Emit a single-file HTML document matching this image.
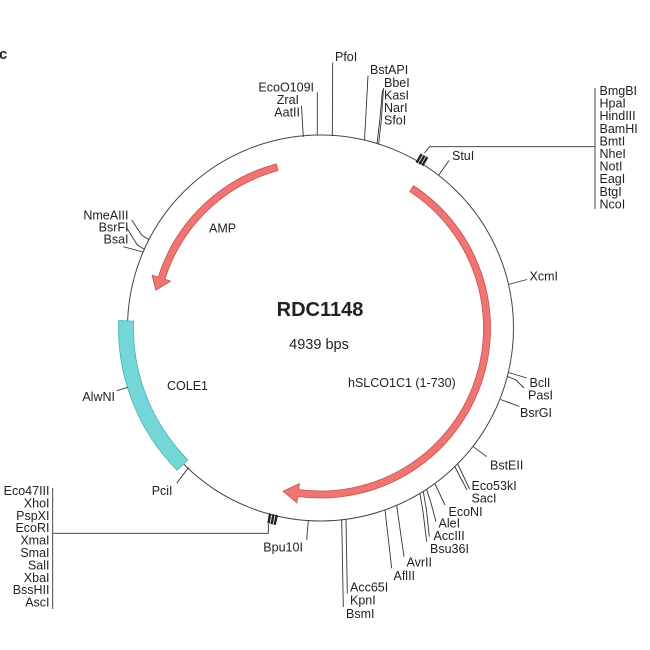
<!DOCTYPE html>
<html>
<head>
<meta charset="utf-8">
<style>
  html, body { margin:0; padding:0; background:#fff; }
  svg { display:block; }
  text { font-family: "Liberation Sans", Arial, sans-serif; font-size:12.5px; fill:#222; }
  .l { stroke:#333; stroke-width:0.9; fill:none; }
</style>
</head>
<body>
<svg width="650" height="650" viewBox="0 0 650 650" xmlns="http://www.w3.org/2000/svg">
  <rect width="650" height="650" fill="#fff"/>

  <!-- panel letter -->
  <text x="-1" y="59" style="font-weight:bold;font-size:15px">c</text>

  <!-- backbone circle -->
  <circle cx="320.5" cy="328" r="193" fill="none" stroke="#444" stroke-width="1"/>

  <!-- COLE1 band -->
  <path d="M118.64,320.60 A202,202 0 0 0 177.16,470.33 L187.80,459.76 A187,187 0 0 1 133.63,321.15 Z"
        fill="#74d6d6" stroke="#45b3b3" stroke-width="0.8"/>

  <!-- hSLCO1C1 arrow -->
  <path d="M413.59,185.74 A170,170 0 0 1 297.72,496.47 L296.85,502.91 L283.10,491.28 L299.46,483.59 L298.66,489.53 A163,163 0 0 0 409.76,191.60 Z"
        fill="#ef7572" stroke="#cf4f4c" stroke-width="0.8"/>

  <!-- AMP arrow -->
  <path d="M276.21,163.86 A170,170 0 0 0 158.29,277.17 L152.08,275.23 L155.76,290.26 L170.69,281.06 L164.97,279.26 A163,163 0 0 1 278.04,170.62 Z"
        fill="#ef7572" stroke="#cf4f4c" stroke-width="0.8"/>

  <!-- center labels -->
  <text x="320" y="316" text-anchor="middle" style="font-weight:bold;font-size:20px">RDC1148</text>
  <text x="319" y="349" text-anchor="middle" style="font-size:14.5px">4939 bps</text>
  <text x="209" y="232.5">AMP</text>
  <text x="167" y="390">COLE1</text>
  <text x="348" y="387">hSLCO1C1 (1-730)</text>

  <!-- top sites -->
  <line class="l" x1="303.3" y1="137" x2="301.5" y2="106"/>
  <line class="l" x1="317.3" y1="135.5" x2="317.3" y2="92"/>
  <line class="l" x1="332.3" y1="136" x2="332.7" y2="62.7"/>
  <line class="l" x1="364.5" y1="140.5" x2="368" y2="75.5"/>
  <polyline class="l" points="377,144 380,118 382.5,90"/>
  <polyline class="l" points="378.6,144.5 381.5,118 383.5,88"/>
  <text x="314" y="91.5" text-anchor="end">EcoO109I</text>
  <text x="299" y="104" text-anchor="end">ZraI</text>
  <text x="300" y="116.5" text-anchor="end">AatII</text>
  <text x="335" y="61">PfoI</text>
  <text x="370" y="74">BstAPI</text>
  <text x="384" y="87">BbeI</text>
  <text x="384" y="99.5">KasI</text>
  <text x="384" y="112">NarI</text>
  <text x="384" y="124.5">SfoI</text>

  <!-- MCS top right -->
  <g stroke="#222" stroke-width="2.4">
    <line x1="416.6" y1="162.6" x2="421.7" y2="154.0"/>
    <line x1="419.5" y1="164.1" x2="424.5" y2="155.5"/>
    <line x1="422.4" y1="165.6" x2="427.2" y2="157.0"/>
  </g>
  <polyline class="l" points="424.5,153 429.5,146.7 595,146.7"/>
  <line class="l" x1="595" y1="88" x2="595" y2="209"/>
  <text x="599.5" y="95">BmgBI</text>
  <text x="599.5" y="107.6">HpaI</text>
  <text x="599.5" y="120.2">HindIII</text>
  <text x="599.5" y="132.8">BamHI</text>
  <text x="599.5" y="145.4">BmtI</text>
  <text x="599.5" y="158">NheI</text>
  <text x="599.5" y="170.6">NotI</text>
  <text x="599.5" y="183.2">EagI</text>
  <text x="599.5" y="195.8">BtgI</text>
  <text x="599.5" y="208.4">NcoI</text>

  <!-- StuI -->
  <line class="l" x1="438.5" y1="175.5" x2="449" y2="160.5"/>
  <text x="452" y="160">StuI</text>

  <!-- right side -->
  <line class="l" x1="508.3" y1="284.5" x2="527" y2="279.5"/>
  <text x="529.5" y="280.5">XcmI</text>
  <line class="l" x1="508.3" y1="372.5" x2="527" y2="378"/>
  <text x="529.5" y="387">BclI</text>
  <polyline class="l" points="507.5,376.5 516,380 524,388"/>
  <text x="528" y="399.5">PasI</text>
  <line class="l" x1="500.5" y1="399.5" x2="519.5" y2="406.5"/>
  <text x="520" y="417">BsrGI</text>
  <line class="l" x1="473.3" y1="446.7" x2="486.7" y2="456.7"/>
  <text x="490" y="469.5">BstEII</text>

  <!-- bottom right cluster -->
  <line class="l" x1="455" y1="467" x2="467" y2="490"/>
  <line class="l" x1="458" y1="464.5" x2="469.5" y2="489"/>
  <text x="471.5" y="490">Eco53kI</text>
  <text x="471.5" y="502.5">SacI</text>
  <line class="l" x1="435" y1="484" x2="445" y2="505"/>
  <text x="448.5" y="516">EcoNI</text>
  <polyline class="l" points="426.7,489.8 431,503 436,521.7"/>
  <text x="438.5" y="527.5">AleI</text>
  <polyline class="l" points="423.3,491.8 426.5,510 429.3,536.7"/>
  <text x="433.5" y="540">AccIII</text>
  <polyline class="l" points="420,493.5 423,512 426.7,541.7"/>
  <text x="430" y="553">Bsu36I</text>
  <line class="l" x1="396.7" y1="505.7" x2="404" y2="556.7"/>
  <text x="406.5" y="566.5">AvrII</text>
  <line class="l" x1="385" y1="510" x2="391.7" y2="568.3"/>
  <text x="393.5" y="580">AflII</text>
  <line class="l" x1="341.7" y1="519.8" x2="343.3" y2="607"/>
  <line class="l" x1="346" y1="519.4" x2="347.3" y2="593.5"/>
  <text x="350" y="591.5">Acc65I</text>
  <text x="350" y="604.5">KpnI</text>
  <text x="346" y="618">BsmI</text>

  <!-- Bpu10I -->
  <line class="l" x1="308.3" y1="520.6" x2="306.7" y2="540"/>
  <text x="263.3" y="551.7">Bpu10I</text>

  <!-- MCS bottom left -->
  <g stroke="#222" stroke-width="2.4">
    <line x1="276.8" y1="515.0" x2="274.6" y2="524.8"/>
    <line x1="273.5" y1="514.3" x2="271.6" y2="524.1"/>
    <line x1="270.2" y1="513.5" x2="268.5" y2="523.4"/>
  </g>
  <polyline class="l" points="268.3,524 268.3,533.3 53.3,533.3"/>
  <line class="l" x1="52.7" y1="488" x2="52.7" y2="609"/>
  <text x="49.5" y="495" text-anchor="end">Eco47III</text>
  <text x="49.5" y="507.4" text-anchor="end">XhoI</text>
  <text x="49.5" y="519.8" text-anchor="end">PspXI</text>
  <text x="49.5" y="532.2" text-anchor="end">EcoRI</text>
  <text x="49.5" y="544.6" text-anchor="end">XmaI</text>
  <text x="49.5" y="557" text-anchor="end">SmaI</text>
  <text x="49.5" y="569.4" text-anchor="end">SalI</text>
  <text x="49.5" y="581.8" text-anchor="end">XbaI</text>
  <text x="49.5" y="594.2" text-anchor="end">BssHII</text>
  <text x="49.5" y="606.6" text-anchor="end">AscI</text>

  <!-- PciI -->
  <line class="l" x1="188.5" y1="467.5" x2="176.7" y2="483.3"/>
  <text x="151.7" y="495">PciI</text>

  <!-- AlwNI -->
  <line class="l" x1="116.7" y1="390.7" x2="128" y2="387.3"/>
  <text x="115" y="401" text-anchor="end">AlwNI</text>

  <!-- left upper cluster -->
  <polyline class="l" points="131.7,220 141.7,235 148.5,239.5"/>
  <polyline class="l" points="126.7,227.7 137.3,245 144.3,249.3"/>
  <polyline class="l" points="123.3,246.7 143,252"/>
  <text x="128.5" y="219.5" text-anchor="end">NmeAIII</text>
  <text x="128.5" y="231.7" text-anchor="end">BsrFI</text>
  <text x="128.5" y="243.5" text-anchor="end">BsaI</text>
</svg>
</body>
</html>
